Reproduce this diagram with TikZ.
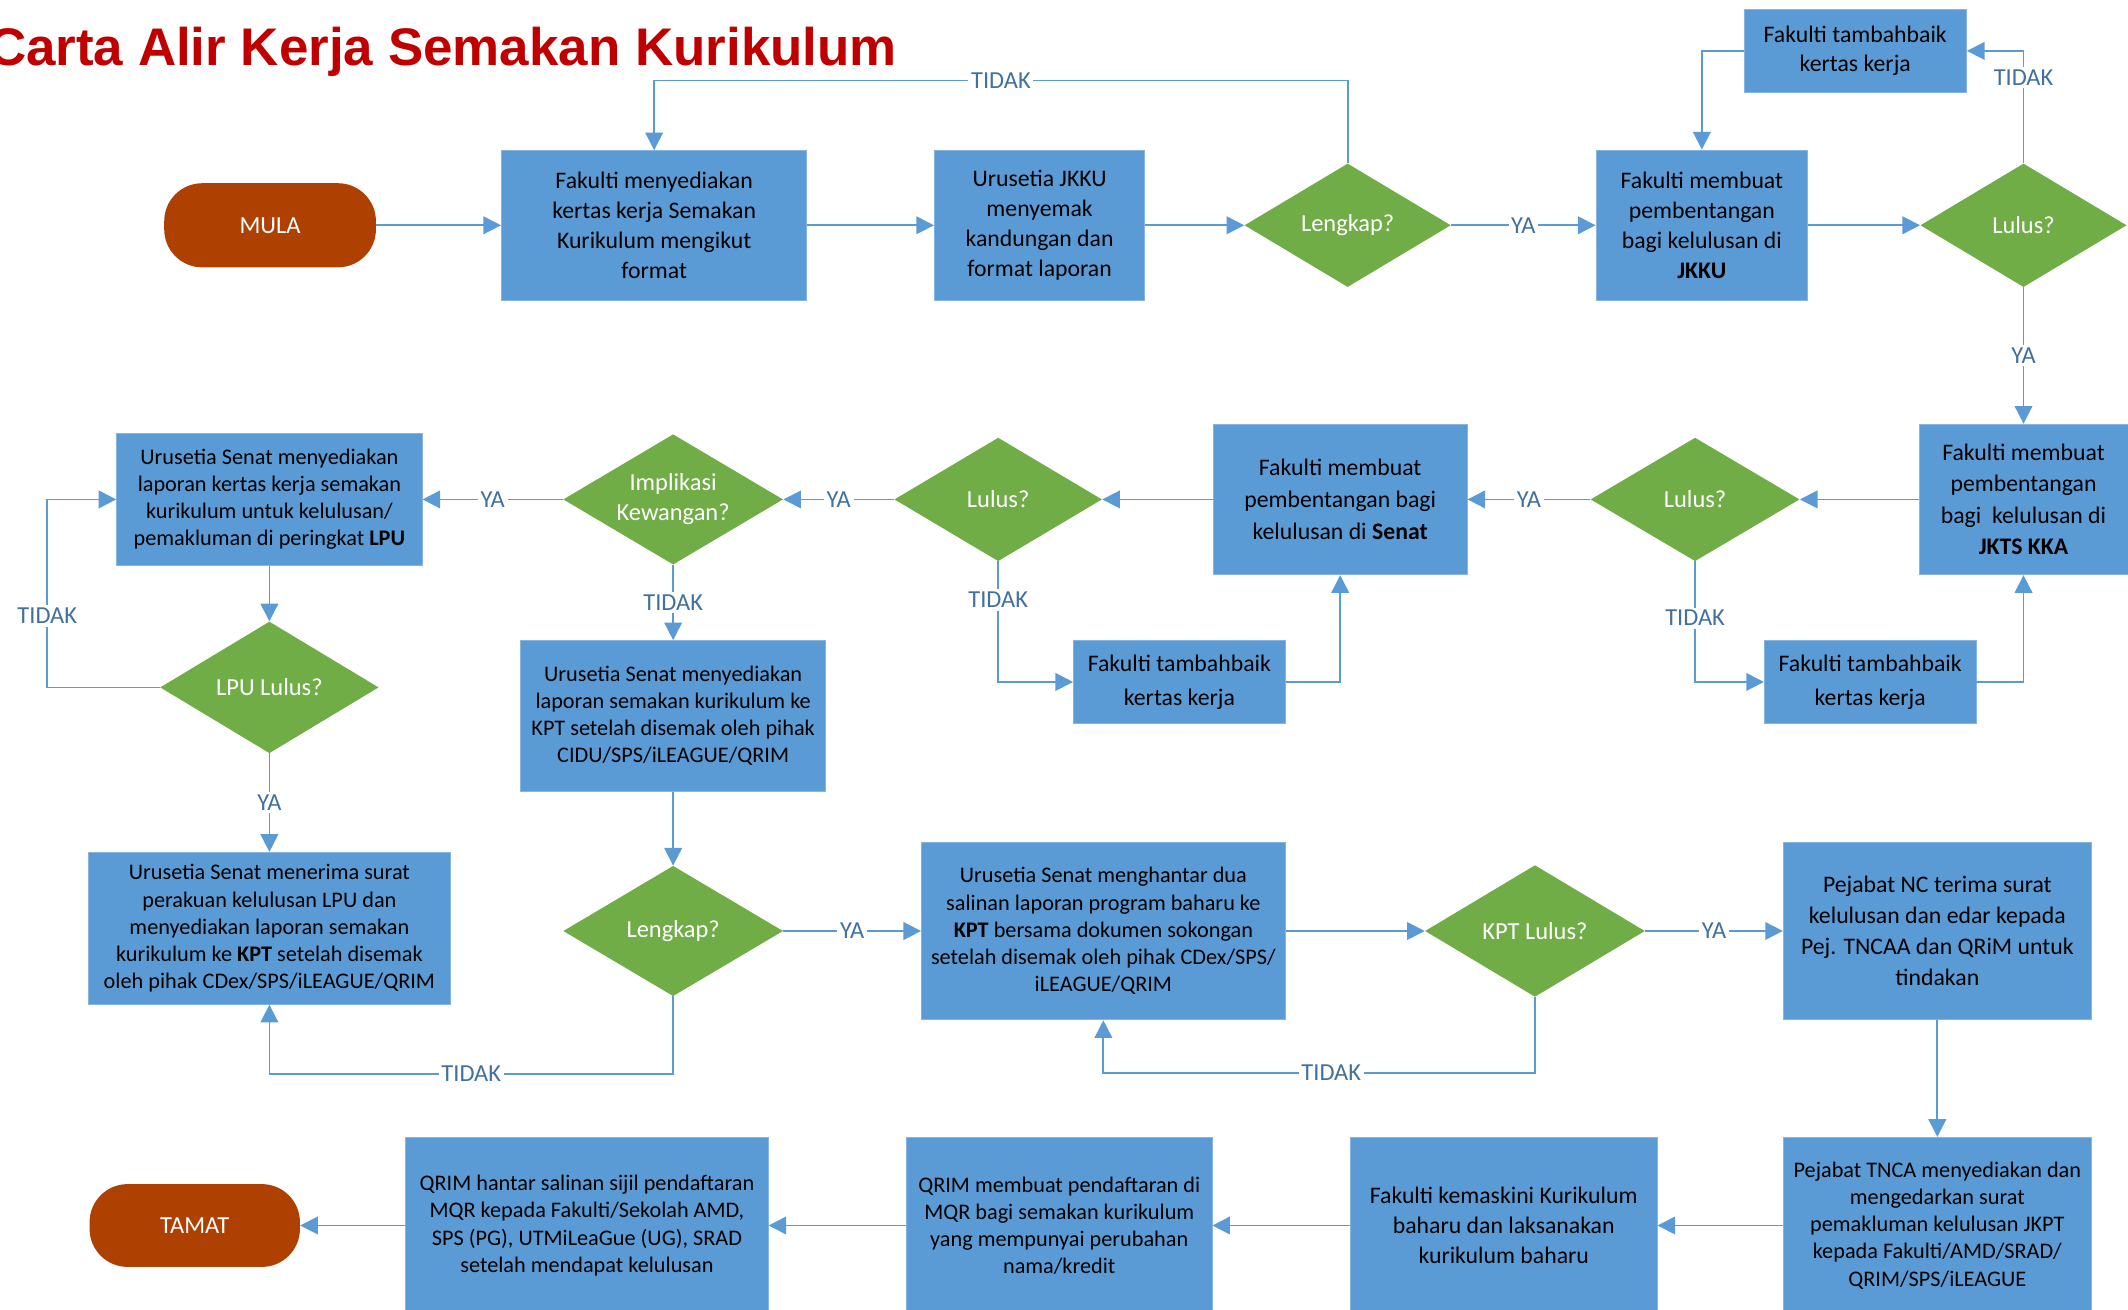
\documentclass[tikz,border=0pt]{standalone}
\usepackage{fontspec}
\setmainfont{Carlito}
\newfontfamily\titlefont{Liberation Sans}
\usetikzlibrary{shapes.geometric, arrows.meta, positioning}

\definecolor{boxblue}{RGB}{91,155,213}
\definecolor{decgreen}{RGB}{112,173,71}
\definecolor{termbrown}{RGB}{174,64,2}
\definecolor{lblblue}{RGB}{65,113,156}
\definecolor{titlered}{RGB}{192,0,0}

\tikzset{
  sz/.style 2 args={minimum width=#1pt, minimum height=#2pt},
  proc/.style={rectangle, fill=boxblue, draw=boxblue!75!white, line width=0.6pt,
    align=center, inner sep=2pt, font=\fontsize{17.5}{22}\selectfont},
  procsmall/.style={proc, font=\fontsize{16.4}{20}\selectfont},
  dec/.style={diamond, fill=decgreen, text=white, aspect=1.7, inner sep=0pt,
    align=center, font=\fontsize{18}{22}\selectfont},
  term/.style={rectangle, rounded corners=28pt, fill=termbrown, text=white,
    font=\fontsize{18}{18}\selectfont},
  lbl/.style={fill=white, text=lblblue, inner sep=2pt, font=\fontsize{18}{18}\selectfont},
  conn/.style={draw=boxblue, color=boxblue, line width=1.3pt},
}

\begin{document}
\begin{tikzpicture}[x=1pt, y=-1pt, >={Triangle[length=13pt,width=13pt]}]
    \useasboundingbox (0,0) rectangle (1568,965);

    \node[anchor=base west, inner sep=0pt, text=titlered,
      font=\titlefont\bfseries\fontsize{39}{39}\selectfont] (judul) at (-9,48)
      {Carta Alir Kerja Semakan Kurikulum};

    \node[term, sz={156}{62}] (mula) at (199,166) {MULA};
    \node[proc, sz={225}{110}] (sedia) at (482,166) {Fakulti menyediakan\\kertas kerja Semakan\\Kurikulum mengikut\\format};
    \node[proc, sz={155}{110}] (semak) at (766,166) {Urusetia JKKU\\menyemak\\kandungan dan\\format laporan};
    \node[dec, sz={152}{91}] (lengkap) at (993,166) {Lengkap?};
    \node[proc, sz={156}{111}] (jkku) at (1254,166) {Fakulti membuat\\pembentangan\\bagi kelulusan di\\\textbf{JKKU}};
    \node[dec, sz={152}{91}] (lulusjkku) at (1491,166) {Lulus?};
    \node[proc, sz={164}{61}, font=\fontsize{17.5}{21}\selectfont] (baikjkku) at (1367,37.5) {Fakulti tambahbaik\\kertas kerja};

    \node[proc, sz={154}{111}, font=\fontsize{17.5}{23}\selectfont] (jkts) at (1491,368) {Fakulti membuat\\pembentangan\\bagi\ \ kelulusan di\\\textbf{JKTS KKA}};
    \node[dec, sz={154}{91}] (lulusjkts) at (1249,368) {Lulus?};
    \node[proc, sz={187}{111}, font=\fontsize{17.5}{23.5}\selectfont] (senat) at (987.5,368) {Fakulti membuat\\pembentangan bagi\\kelulusan di \textbf{Senat}};
    \node[dec, sz={153}{91}] (lulussenat) at (735.5,368) {Lulus?};
    \node[dec, sz={162}{96}] (kewangan) at (496,368) {Implikasi\\Kewangan?};
    \node[procsmall, sz={225}{97}] (lpu) at (198.5,368) {Urusetia Senat menyediakan\\laporan kertas kerja semakan\\kurikulum untuk kelulusan/\\pemakluman di peringkat \textbf{LPU}};
    \node[dec, sz={161}{97}] (lpululus) at (198.5,506.5) {LPU Lulus?};
    \node[proc, sz={156}{61}, font=\fontsize{17.5}{25}\selectfont] (baiksenat) at (869,502.5) {Fakulti tambahbaik\\kertas kerja};
    \node[proc, sz={156}{61}, font=\fontsize{17.5}{25}\selectfont] (baikjkts) at (1378,502.5) {Fakulti tambahbaik\\kertas kerja};
    \node[procsmall, sz={225}{111}] (kptcidu) at (496,527.5) {Urusetia Senat menyediakan\\laporan semakan kurikulum ke\\KPT setelah disemak oleh pihak\\CIDU/SPS/iLEAGUE/QRIM};

    \node[procsmall, sz={267}{112}] (lpukpt) at (198.5,684) {Urusetia Senat menerima surat\\perakuan kelulusan LPU dan\\menyediakan laporan semakan\\kurikulum ke \textbf{KPT} setelah disemak\\oleh pihak CDex/SPS/iLEAGUE/QRIM};
    \node[dec, sz={162}{96}] (lengkapkpt) at (496,686) {Lengkap?};
    \node[procsmall, sz={268}{131}] (hantar) at (813,686) {Urusetia Senat menghantar dua\\salinan laporan program baharu ke\\\textbf{KPT} bersama dokumen sokongan\\setelah disemak oleh pihak CDex/SPS/\\iLEAGUE/QRIM};
    \node[dec, sz={162}{97}] (kptlulus) at (1131,686) {KPT Lulus?};
    \node[proc, sz={227}{131}, font=\fontsize{17.5}{22.7}\selectfont] (nc) at (1427.5,686) {Pejabat NC terima surat\\kelulusan dan edar kepada\\Pej. TNCAA dan QRiM untuk\\tindakan};

    \node[procsmall, sz={227}{130}] (tnca) at (1427.5,903) {Pejabat TNCA menyediakan dan\\mengedarkan surat\\pemakluman kelulusan JKPT\\kepada Fakulti/AMD/SRAD/\\QRIM/SPS/iLEAGUE};
    \node[proc, sz={226}{130}] (kemaskini) at (1108,903) {Fakulti kemaskini Kurikulum\\baharu dan laksanakan\\kurikulum baharu};
    \node[procsmall, sz={225}{130}] (mqr) at (780.5,903) {QRIM membuat pendaftaran di\\MQR bagi semakan kurikulum\\yang mempunyai perubahan\\nama/kredit};
    \node[procsmall, sz={267}{130}] (sijil) at (432.5,903) {QRIM hantar salinan sijil pendaftaran\\MQR kepada Fakulti/Sekolah AMD,\\SPS (PG), UTMiLeaGue (UG), SRAD\\setelah mendapat kelulusan};
    \node[term, sz={155}{61}] (tamat) at (143.5,903) {TAMAT};

    \path[conn, ->]
        (mula) edge (sedia)
        (sedia) edge (semak)
        (semak) edge (lengkap)
        (lengkap) edge node[lbl]{YA} (jkku)
        (jkku) edge (lulusjkku)
        (lulusjkku) edge node[lbl]{YA} (jkts)
        (jkts) edge (lulusjkts)
        (lulusjkts) edge node[lbl]{YA} (senat)
        (senat) edge (lulussenat)
        (lulussenat) edge node[lbl]{YA} (kewangan)
        (kewangan) edge node[lbl]{YA} (lpu)
        (kewangan) edge node[lbl]{TIDAK} (kptcidu)
        (lpu) edge (lpululus)
        (lpululus) edge node[lbl]{YA} (lpukpt)
        (kptcidu) edge (lengkapkpt)
        (lengkapkpt) edge node[lbl]{YA} (hantar)
        (hantar) edge (kptlulus)
        (kptlulus) edge node[lbl]{YA} (nc)
        (nc) edge (tnca)
        (tnca) edge (kemaskini)
        (kemaskini) edge (mqr)
        (mqr) edge (sijil)
        (sijil) edge (tamat)
    ;

    \draw[conn, ->] (lengkap.north) -- ++(0,-61) -| node[lbl, pos=0.25]{TIDAK} (sedia.north);
    \draw[conn, ->] (lulusjkku.north) |- node[lbl, pos=0.38]{TIDAK} (baikjkku.east);
    \draw[conn, ->] (baikjkku.west) -| (jkku.north);
    \draw[conn, ->] (lulusjkts.south) |- node[lbl, pos=0.235]{TIDAK} (baikjkts.west);
    \draw[conn, ->] (baikjkts.east) -| (jkts.south);
    \draw[conn, ->] (lulussenat.south) |- node[lbl, pos=0.16]{TIDAK} (baiksenat.west);
    \draw[conn, ->] (baiksenat.east) -| (senat.south);
    \draw[conn, ->] (lpululus.west) -- ++(-83,0) |- node[lbl, pos=0.19]{TIDAK} (lpu.west);
    \draw[conn, ->] (lengkapkpt.south) -- ++(0,57) -| node[lbl, pos=0.25]{TIDAK} (lpukpt.south);
    \draw[conn, ->] (kptlulus.south) -- ++(0,56) -| node[lbl, pos=0.236]{TIDAK} (hantar.south);
\end{tikzpicture}
\end{document}
